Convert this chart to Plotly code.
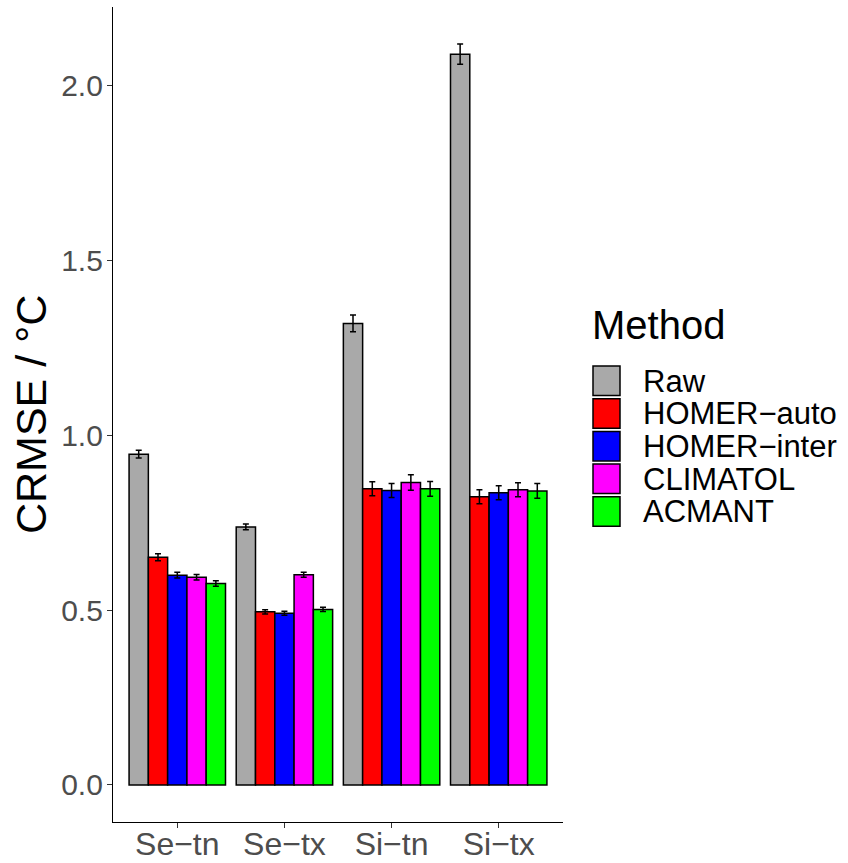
import plotly.graph_objects as go

categories = ["Se−tn", "Se−tx", "Si−tn", "Si−tx"]
methods = ["Raw", "HOMER−auto", "HOMER−inter", "CLIMATOL", "ACMANT"]
colors = ["#A9A9A9", "#FF0000", "#0000FF", "#FF00FF", "#00FF00"]

raw = [0.946, 0.738, 1.320, 2.090]
homer_auto = [0.651, 0.495, 0.847, 0.824]
homer_inter = [0.600, 0.491, 0.842, 0.836]
climatol = [0.594, 0.601, 0.865, 0.844]
acmant = [0.576, 0.502, 0.847, 0.841]

raw_err = [0.011, 0.008, 0.024, 0.029]
homer_auto_err = [0.010, 0.006, 0.020, 0.020]
homer_inter_err = [0.008, 0.006, 0.020, 0.020]
climatol_err = [0.008, 0.007, 0.022, 0.020]
acmant_err = [0.008, 0.006, 0.021, 0.021]

values = [raw, homer_auto, homer_inter, climatol, acmant]
errors = [raw_err, homer_auto_err, homer_inter_err, climatol_err, acmant_err]

FONT = "Liberation Sans"

fig = go.Figure()
for m, c, v, e in zip(methods, colors, values, errors):
    fig.add_trace(go.Bar(
        x=categories, y=v, name=m,
        marker=dict(color=c, line=dict(color="black", width=1.5)),
        error_y=dict(type="data", array=e, visible=True, color="black",
                     thickness=1.5, width=3),
        showlegend=False,
    ))

# plot-area geometry in pixels (for the hand-drawn legend and y title)
L, R, T, B = 113, 563, 7, 822
W, H = R - L, B - T

def px(x):
    return (x - L) / W

def py(y):
    return (B - y) / H

shapes = []
annotations = []
annotations.append(dict(text="CRMSE / °C", x=px(31), y=py(415), xref="paper", yref="paper",
                        xanchor="center", yanchor="middle", textangle=-90, showarrow=False,
                        font=dict(family=FONT, size=43, color="black")))
annotations.append(dict(text="Method", x=px(590), y=py(325), xref="paper", yref="paper",
                        xanchor="left", yanchor="middle", showarrow=False,
                        font=dict(family=FONT, size=40, color="black")))
for i, (m, c) in enumerate(zip(methods, colors)):
    top = 366 + 32.7 * i
    shapes.append(dict(type="rect", xref="paper", yref="paper",
                       x0=px(593), x1=px(620), y0=py(top + 29.5), y1=py(top),
                       fillcolor=c, line=dict(color="black", width=1.5)))
    annotations.append(dict(text=m, x=px(641), y=py(top + 15), xref="paper", yref="paper",
                            xanchor="left", yanchor="middle", showarrow=False,
                            font=dict(family=FONT, size=31, color="black")))

fig.update_layout(
    width=848, height=863,
    margin=dict(l=L, r=848 - R, t=T, b=863 - B),
    paper_bgcolor="white", plot_bgcolor="white",
    barmode="group", bargap=0.1, bargroupgap=0,
    font=dict(family=FONT),
    shapes=shapes, annotations=annotations,
    xaxis=dict(type="category", range=[-0.6, 3.6], showline=True, linecolor="black",
               linewidth=1.2, ticks="outside", ticklen=5, tickwidth=1.2, tickcolor="#333333",
               tickfont=dict(family=FONT, size=32, color="#4d4d4d"), showgrid=False,
               zeroline=False, automargin=False, ticklabelstandoff=-12),
    yaxis=dict(range=[-0.106, 2.225], tickvals=[0, 0.5, 1.0, 1.5, 2.0],
               ticktext=["0.0", "0.5", "1.0", "1.5", "2.0"], showline=True,
               linecolor="black", linewidth=1.2, ticks="outside", ticklen=5, tickwidth=1.2,
               tickcolor="#333333", tickfont=dict(family=FONT, size=30, color="#4d4d4d"),
               showgrid=False, zeroline=False, automargin=False, ticklabelstandoff=-2),
)

fig.write_html("out.html")
